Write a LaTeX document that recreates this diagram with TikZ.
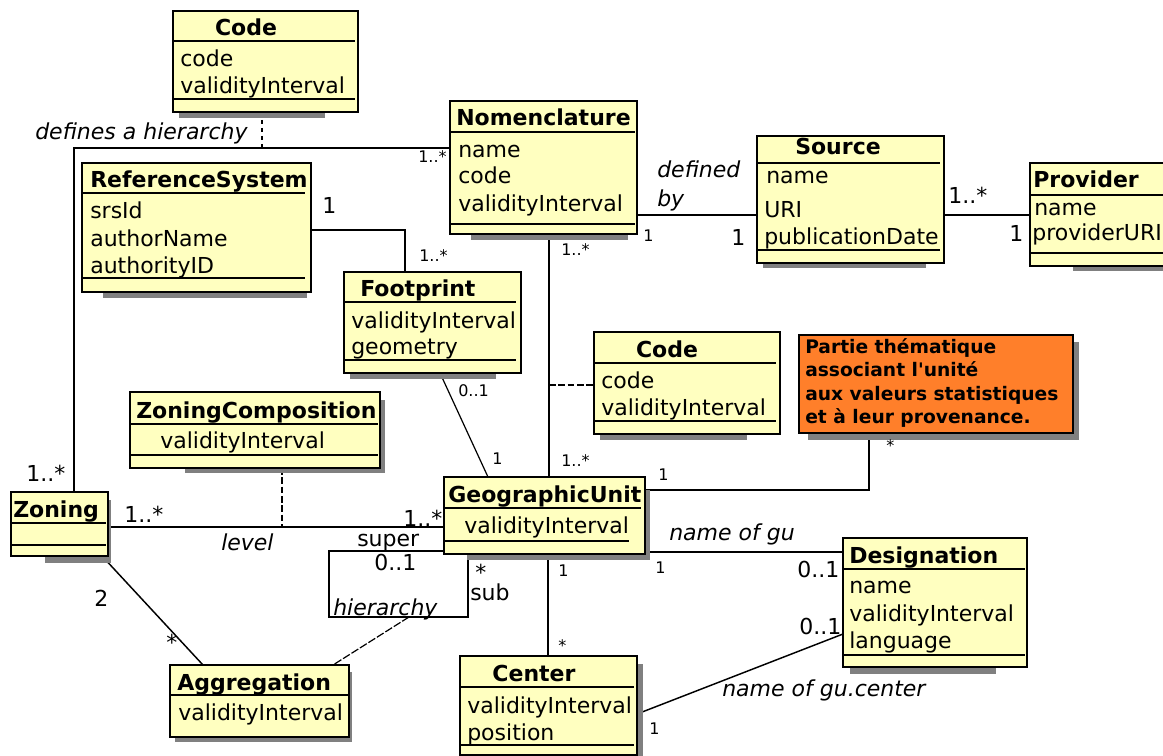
\documentclass[tikz,border=0pt]{standalone}
\usepackage{fontspec}
\setmainfont{DejaVu Sans}
\usetikzlibrary{fit}
\definecolor{umly}{HTML}{FFFFC0}
\definecolor{noteor}{HTML}{FF7F2A}
\definecolor{shadowg}{HTML}{808080}
\newcommand\ffbig{\fontsize{16.5}{19}\selectfont}
\newcommand\ffsmall{\fontsize{12}{14}\selectfont}
\newcommand\ffnote{\fontsize{14}{17}\selectfont}
\pgfdeclarelayer{conn}
\pgfdeclarelayer{shad}
\pgfsetlayers{conn,shad,main}
\tikzset{
  cls/.style={draw=black, fill=umly, line width=1.5pt, inner sep=0pt, outer sep=0pt},
  notebox/.style={cls, fill=noteor},
  sepl/.style={line width=1.5pt},
  conn/.style={line width=1.1pt},
  dconn/.style={conn, dash pattern=on 5pt off 2pt},
  shd/.style={fill=shadowg},
  t/.style={anchor=base west, inner sep=0pt, font=\ffbig},
  tc/.style={anchor=base, inner sep=0pt, font=\ffbig\bfseries},
  tb/.style={t, font=\ffbig\bfseries},
  ti/.style={t, font=\ffbig\itshape},
  ts/.style={t, font=\ffsmall},
  tn/.style={t, font=\ffnote\bfseries},
}
\begin{document}
\begin{tikzpicture}[x=0.75pt, y=-0.75pt]
\useasboundingbox (0,0) rectangle (1163,756);
\clip (0,0) rectangle (1163,756);

% ---------- class boxes ----------
\node[cls, fit={(173,11) (358,112)}] (codeA) {};
\node[cls, fit={(82,163) (311,292)}] (refsys) {};
\node[cls, fit={(450,101) (637,234)}] (nomen) {};
\node[cls, fit={(757,136) (944,263)}] (source) {};
\node[cls, fit={(1030,163) (1180,266)}] (prov) {};
\node[cls, fit={(344,272) (521,373)}] (foot) {};
\node[cls, fit={(594,332) (780,434)}] (codeB) {};
\node[notebox, fit={(799,335) (1073,433)}] (note) {};
\node[cls, fit={(130,392) (380,468)}] (zc) {};
\node[cls, fit={(11,492) (108,556)}] (zoning) {};
\node[cls, fit={(444,477) (645,554)}] (gu) {};
\node[cls, fit={(843,538) (1027,667)}] (desig) {};
\node[cls, fit={(460,656) (637,755)}] (center) {};
\node[cls, fit={(170,665) (349,737)}] (agg) {};

% ---------- shadows ----------
\begin{pgfonlayer}{shad}
\fill[shd] (179,112) rectangle (325,118);
\fill[shd] (103,292) rectangle (307,298);
\fill[shd] (471,234) rectangle (628,240);
\fill[shd] (763,263) rectangle (926,268);
\fill[shd] (1073,266) rectangle (1163,271);
\fill[shd] (350,373) rectangle (496,379);
\fill[shd] (600,434) rectangle (747,440);
\fill[shd] (1073,342) rectangle (1079,440);
\fill[shd] (808,433) rectangle (1079,440);
\fill[shd] (380,400) rectangle (385,473);
\fill[shd] (185,468) rectangle (385,473);
\fill[shd] (45,556) rectangle (111,563);
\fill[shd] (108,500) rectangle (111,563);
\fill[shd] (645,490) rectangle (650,560);
\fill[shd] (467,554) rectangle (650,560);
\fill[shd] (850,667) rectangle (996,674);
\fill[shd] (637,664) rectangle (643,756);
\fill[shd] (175,737) rectangle (352,742);
\fill[shd] (349,672) rectangle (352,742);
\end{pgfonlayer}

% ---------- connectors ----------
\coordinate (nomMid) at (549,385);
\coordinate (lvlMid) at (282,527);
\coordinate (hierMid) at (409,617);
\coordinate (codeAfoot) at (262,148);
\begin{pgfonlayer}{conn}
\draw[conn] (74,0 |- zoning.north) |- (nomen.west |- 0,148);
\draw[conn, dashed] (262,0 |- codeA.south) -- (codeAfoot);
\draw[conn] (refsys.east |- 0,230) -| (405,0 |- foot.north);
\draw[conn] (549,0 |- nomen.south) -- (549,0 |- gu.north);
\draw[dconn] (nomMid) -- (codeB.west |- nomMid);
\draw[conn] (nomen.east |- 0,215) -- (source.west |- 0,215);
\draw[conn] (source.east |- 0,215) -- (prov.west |- 0,215);
\draw[line width=0.9pt] (440,0 |- foot.south) -- (488,0 |- gu.north);
\draw[conn] (gu.east |- 0,490) -| (869,0 |- note.south);
\draw[conn] (zoning.east |- 0,527) -- (gu.west |- 0,527);
\draw[dconn] (282,0 |- zc.south) -- (lvlMid);
\draw[conn] (gu.west |- 0,551) -| (329,617) -| (468,0 |- gu.south);
\draw[line width=0.9pt, dash pattern=on 6pt off 1.5pt] (hierMid) -- (333,0 |- agg.north);
\draw[conn] (102,0 |- zoning.south) -- (203,0 |- agg.north);
\draw[conn] (gu.east |- 0,552) -- (desig.west |- 0,552);
\draw[conn] (548,0 |- gu.south) -- (548,0 |- center.north);
\draw[conn] (center.east |- 0,714) -- (desig.west |- 0,634);
\end{pgfonlayer}

% ---------- compartment lines ----------
\draw[sepl] (173,41) -- (355,41) (173,99) -- (355,99);
\draw[sepl] (82,193) -- (305,193) (82,278) -- (305,278);
\draw[sepl] (450,132) -- (635,132) (450,224) -- (635,224);
\draw[sepl] (757,163) -- (940,163) (757,250) -- (940,250);
\draw[sepl] (1030,195) -- (1163,195) (1030,253) -- (1163,253);
\draw[sepl] (344,302) -- (516,302) (344,360) -- (516,360);
\draw[sepl] (594,363) -- (776,363) (594,421) -- (776,421);
\draw[sepl] (130,424) -- (378,424) (130,455) -- (378,455);
\draw[sepl] (11,523) -- (106,523) (11,545) -- (106,545);
\draw[sepl] (445,508) -- (641,508) (445,541) -- (629,541);
\draw[sepl] (843,569) -- (1025,569) (843,655) -- (1025,655);
\draw[sepl] (460,687) -- (634,687) (460,745) -- (634,745);
\draw[sepl] (170,695) -- (348,695);

% ---------- class texts ----------
\node[tc] (codeAt) at (246,36) {Code};
\node[t] (codeA1) at (180,67) {code};
\node[t] (codeA2) at (180,94) {validityInterval};

\node[tb] (refsyst) at (90,188) {ReferenceSystem};
\node[t] (refsys1) at (90,218) {srsId};
\node[t] (refsys2) at (90,246) {authorName};
\node[t] (refsys3) at (90,273) {authorityID};

\node[tb] (noment) at (456,126) {Nomenclature};
\node[t] (nomen1) at (458,157) {name};
\node[t] (nomen2) at (458,184) {code};
\node[t] (nomen3) at (458,211.7) {validityInterval};

\node[tc] (sourcet) at (838,155) {Source};
\node[t] (source1) at (766,184) {name};
\node[t] (source2) at (764,217) {URI};
\node[t] (source3) at (764,244) {publicationDate};

\node[tb] (provt) at (1033,188) {Provider};
\node[t] (prov1) at (1034,215) {name};
\node[t] (prov2) at (1032,240) {providerURI};

\node[tb] (foott) at (360,296) {Footprint};
\node[t] (foot1) at (351,328) {validityInterval};
\node[t] (foot2) at (351,354) {geometry};

\node[tc] (codeBt) at (667,357) {Code};
\node[t] (codeB1) at (601,388) {code};
\node[t] (codeB2) at (601,415) {validityInterval};

\node[tn] (note1) at (805,353.3) {Partie thématique};
\node[tn] (note2) at (805,376.7) {associant l\textquotesingle unité};
\node[tn] (note3) at (805,400) {aux valeurs statistiques};
\node[tn] (note4) at (805,423.3) {et à leur provenance.};

\node[tb] (zct) at (136,418) {ZoningComposition};
\node[t] (zc1) at (160,448) {validityInterval};

\node[tb] (zoningt) at (13,517) {Zoning};

\node[tb] (gut) at (448,502) {GeographicUnit};
\node[t] (gu1) at (464,533) {validityInterval};

\node[tb] (desigt) at (849,563) {Designation};
\node[t] (desig1) at (849,593) {name};
\node[t] (desig2) at (849,621) {validityInterval};
\node[t] (desig3) at (849,648) {language};

\node[tc] (centert) at (534,681) {Center};
\node[t] (center1) at (467,713) {validityInterval};
\node[t] (center2) at (467,740) {position};

\node[tb] (aggt) at (177,690) {Aggregation};
\node[t] (agg1) at (178,720) {validityInterval};

% ---------- connector labels ----------
\node[t] (m1) at (26,481.7) {1..*};
\node[ti] (m2) at (35,140) {defines a hierarchy};
\node[ts] (m3) at (418,163) {1..*};
\node[t] (m4) at (322,213) {1};
\node[ts] (m5) at (419,261) {1..*};
\node[ts] (m6) at (561,255) {1..*};
\node[ts] (m7) at (561,466) {1..*};
\node[ti] (m8) at (657,178) {defined};
\node[ti] (m9) at (657,206) {by};
\node[ts] (m10) at (643,241) {1};
\node[t] (m11) at (731,245) {1};
\node[t] (m12) at (948,204) {1..*};
\node[t] (m13) at (1009,241) {1};
\node[ts] (m14) at (458,396) {0..1};
\node[ts] (m15) at (492,464) {1};
\node[ts] (m16) at (658,480) {1};
\node[ts] (m17) at (886,451) {*};
\node[t] (m18) at (124,522.7) {1..*};
\node[ti] (m19) at (221,550.7) {level};
\node[t] (m20) at (403,526) {1..*};
\node[t] (m21) at (357,546.7) {super};
\node[t] (m22) at (374,570) {0..1};
\node[ti] (m23) at (333,615) {hierarchy};
\node[t] (m24) at (475,580) {*};
\node[t] (m25) at (470,600) {sub};
\node[t] (m26) at (94,606) {2};
\node[t] (m27) at (166,650) {*};
\node[ti] (m28) at (669,540) {name of gu};
\node[ts] (m29) at (655,573) {1};
\node[t] (m30) at (797,577) {0..1};
\node[ts] (m31) at (558,576) {1};
\node[ts] (m32) at (558,651) {*};
\node[t] (m33) at (799,634) {0..1};
\node[ti] (m34) at (722,696) {name of gu.center};
\node[ts] (m35) at (649,734) {1};
\end{tikzpicture}
\end{document}
